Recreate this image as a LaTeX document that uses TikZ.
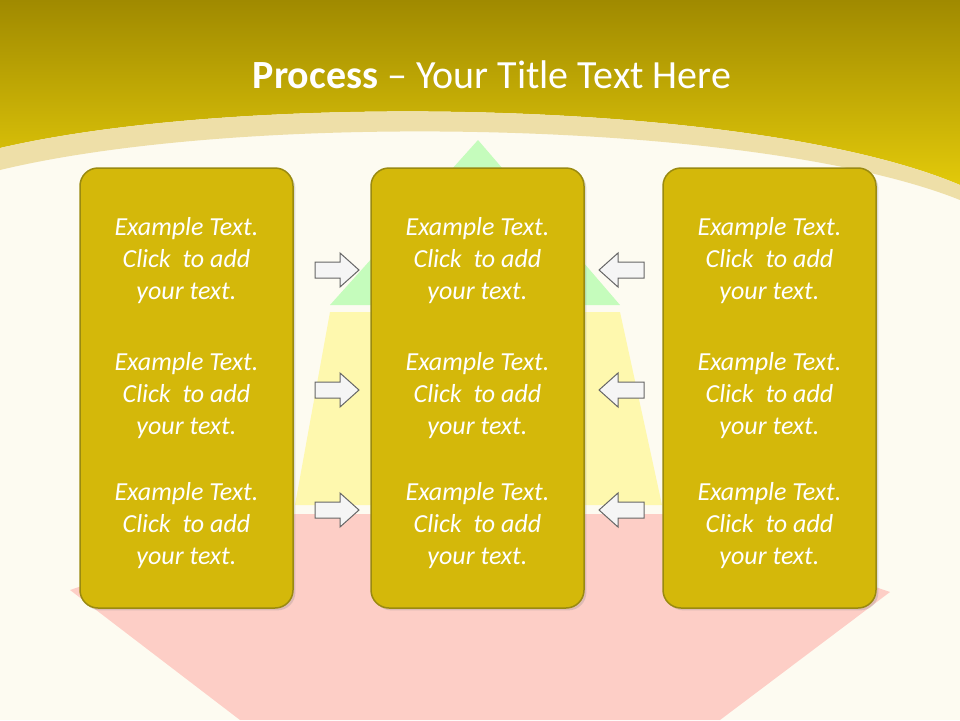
\documentclass[tikz,border=0pt]{standalone}
\usepackage{fontspec}
\setmainfont{Carlito}
\usetikzlibrary{shadows}
\definecolor{bg}{HTML}{FDFBF1}
\definecolor{gold}{HTML}{D4B80A}
\definecolor{goldd}{HTML}{9A8A10}
\definecolor{topd}{HTML}{A08A00}
\definecolor{topl}{HTML}{E2C90A}
\definecolor{arc}{HTML}{EEDFA8}
\tikzset{
 box/.style={draw=goldd,line width=1.5pt,fill=gold,rounded corners=18pt,minimum width=213pt,minimum height=440pt},
 txt/.style={text=white,font=\fontsize{26}{32}\selectfont\itshape,align=center},
 arr/.style={draw=gray!80!black,line width=1pt,fill=gray!8},
}
\begin{document}
\begin{tikzpicture}[x=1pt,y=-1pt]
\fill[bg] (0,0) rectangle (960,720);
\useasboundingbox (0,0) rectangle (960,720);
% pyramid
\fill[green!22!bg] (478,140) -- (620,305) -- (330,305) -- cycle;
\fill[yellow!28!bg] (330,312) -- (620,312) -- (662,505) -- (295,505) -- cycle;
\fill[red!18!bg] (295,514) -- (662,514) -- (890,592) -- (720,720) -- (240,720) -- (70,590) -- cycle;
% header
\shade[top color=topd,bottom color=topl] (0,0) -- (960,0) -- (960,185) .. controls (760,100) and (250,90) .. (0,148) -- cycle;
\fill[arc] (0,148) .. controls (250,90) and (760,100) .. (960,185) -- (960,200) .. controls (760,120) and (250,110) .. (0,170) -- cycle;
\node (title) at (492,75) {\color{white}\fontsize{40}{44}\selectfont\textbf{Process} – Your Title Text Here};
% boxes
\foreach \n/\x in {L/186.5,M/477.5,R/769.5}{
 \node[box,drop shadow={opacity=.25}] (\n) at (\x,388) {};
 \foreach \k/\y in {1/261,2/396,3/526}{
  \node[txt] (\n\k) at (\x,\y) {Example Text.\\Click\ \ to add\\your text.};
 }
}
\foreach \k/\y in {1/270,2/390,3/510}{
 \draw[arr] (315,\y-8) -- (340,\y-8) -- (340,\y-17) -- (359,\y) -- (340,\y+17) -- (340,\y+8) -- (315,\y+8) -- cycle;
 \draw[arr] (644,\y-8) -- (618,\y-8) -- (618,\y-17) -- (599,\y) -- (618,\y+17) -- (618,\y+8) -- (644,\y+8) -- cycle;
}
\end{tikzpicture}
\end{document}
